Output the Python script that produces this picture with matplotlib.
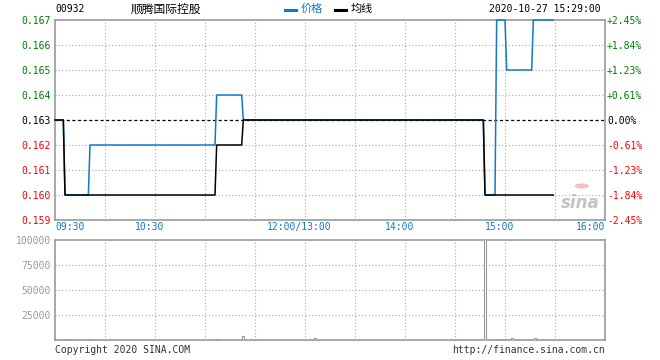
import matplotlib
matplotlib.use("Agg")
import matplotlib.pyplot as plt
import matplotlib.transforms as mtransforms
from matplotlib.patches import Circle

# ---------------- data ----------------
code = "00932"
name = "顺腾国际控股"
timestamp = "2020-10-27 15:29:00"
prev_close = 0.163

# minute index from 09:30 (HK session: 09:30-12:00, 13:00-16:00)
price_minutes = [0, 5, 6, 20, 21, 96, 97, 112, 113, 257, 258, 264, 265, 270, 271, 286, 287, 299]
price_values = [0.163, 0.163, 0.160, 0.160, 0.162, 0.162, 0.164, 0.164, 0.163, 0.163,
                0.160, 0.160, 0.167, 0.167, 0.165, 0.165, 0.167, 0.167]

avg_minutes = [0, 5, 6, 96, 97, 112, 113, 257, 258, 299]
avg_values = [0.163, 0.163, 0.160, 0.160, 0.162, 0.162, 0.163, 0.163, 0.160, 0.160]

vol_minutes = [6, 9, 21, 97, 113, 156, 258, 265, 268, 270, 274, 288]
vol_values = [1000, 1000, 1000, 1000, 4000, 2000, 120000, 1000, 1000, 1000, 2000, 2000]

price_ticks = [0.159, 0.160, 0.161, 0.162, 0.163, 0.164, 0.165, 0.166, 0.167]
vol_ticks = [25000, 50000, 75000, 100000]
time_tick_pos = [0, 60, 150, 210, 270, 330]
time_tick_labels = ["09:30", "10:30", "12:00/13:00", "14:00", "15:00", "16:00"]

# ---------------- style ----------------
W, H = 660, 360
DPI = 100
BLUE = "#0f7acb"
GREEN = "#008000"
RED = "#ff0000"
GRAY = "#999999"
GRIDC = "#aaaaaa"
MONO = "DejaVu Sans Mono"
CJK = ["Noto Sans CJK SC", "DejaVu Sans"]
FS = 7

fig = plt.figure(figsize=(W / DPI, H / DPI), dpi=DPI)
fig.patch.set_facecolor("white")

def fx(px):
    return px / W

def fy(py):
    return 1 - py / H

ax = fig.add_axes([fx(55), fy(220), fx(550), 200 / H])
axv = fig.add_axes([fx(55), fy(340), fx(550), 100 / H])

for a in (ax, axv):
    a.set_xlim(0, 330)
    for s in a.spines.values():
        s.set_color(GRAY)
        s.set_linewidth(1.2)
    a.set_xticks(list(range(30, 330, 30)))
    a.tick_params(axis="x", length=0, labelbottom=False)
    for x in range(30, 330, 30):
        a.axvline(x, color=GRIDC, lw=0.8, ls=(0, (1, 2)), zorder=1)

# ---------------- price panel ----------------
ax.set_ylim(0.159, 0.167)
for p in price_ticks[1:-1]:
    if abs(p - prev_close) < 1e-9:
        ax.axhline(p, color="black", lw=0.9, ls=(0, (2.5, 2)), zorder=2)
    else:
        ax.axhline(p, color=GRIDC, lw=0.8, ls=(0, (1, 2)), zorder=1)

ax.plot(price_minutes, price_values, color=BLUE, lw=1.1, zorder=5, clip_on=False)
ax.plot(avg_minutes, avg_values, color="black", lw=1.1, zorder=6, clip_on=False)

def pcolor(p):
    if abs(p - prev_close) < 1e-9:
        return "black"
    return GREEN if p > prev_close else RED

ax.set_yticks(price_ticks)
ax.set_yticklabels([f"{p:.3f}" for p in price_ticks], family=MONO, fontsize=FS)
for lbl, p in zip(ax.get_yticklabels(), price_ticks):
    lbl.set_color(pcolor(p))
ax.tick_params(axis="y", length=0, pad=3)

axr = ax.twinx()
axr.set_ylim(0.159, 0.167)
axr.set_yticks(price_ticks)
pct = []
for p in price_ticks:
    v = (p - prev_close) / prev_close * 100
    if abs(v) < 1e-9:
        pct.append("0.00%")
    else:
        pct.append(f"{v:+.2f}%")
axr.set_yticklabels(pct, family=MONO, fontsize=FS)
for lbl, p in zip(axr.get_yticklabels(), price_ticks):
    lbl.set_color(pcolor(p))
axr.tick_params(axis="y", length=0, pad=1.5)
for s in axr.spines.values():
    s.set_visible(False)

# time labels
off = mtransforms.ScaledTranslation(-5.5 / DPI, 0, fig.dpi_scale_trans)
trans = mtransforms.blended_transform_factory(ax.transData, fig.transFigure)
for i, (pos, lab) in enumerate(zip(time_tick_pos, time_tick_labels)):
    if i == 0:
        ha, tr = "left", trans
    elif i == len(time_tick_pos) - 1:
        ha, tr = "right", trans
    else:
        ha, tr = "center", trans + off
    fig.text(pos, fy(227), lab, transform=tr, ha=ha, va="center",
             family=MONO, fontsize=FS, color=BLUE)

# watermark
ax.text(0.955, 0.085, "sina", transform=ax.transAxes, ha="center", va="center",
        fontsize=12, fontweight="bold", style="italic", color="#c4c4c4", zorder=0)
ax.add_patch(Circle((0.958, 0.17), 0.013, transform=ax.transAxes,
                    facecolor="#f4c0c0", edgecolor="none", zorder=0))

# ---------------- volume panel ----------------
axv.set_ylim(0, 100000)
for v in vol_ticks[:-1]:
    axv.axhline(v, color=GRIDC, lw=0.8, ls=(0, (1, 2)), zorder=1)
axv.bar(vol_minutes, vol_values, width=1.3, facecolor="white", edgecolor=GRAY,
        linewidth=0.8, zorder=3)
axv.set_yticks(vol_ticks)
axv.set_yticklabels([str(v) for v in vol_ticks], family=MONO, fontsize=FS, color=GRAY)
axv.tick_params(axis="y", length=0, pad=3)

# ---------------- header / footer ----------------
fig.text(fx(55), fy(9), code, family=MONO, fontsize=FS, ha="left", va="center")
fig.text(fx(166), fy(9), name, family=CJK, fontsize=8.5, ha="center", va="center")
fig.add_artist(plt.Line2D([fx(285), fx(296)], [fy(10), fy(10)], color=BLUE, lw=2.2))
fig.text(fx(301), fy(9), "价格", family=CJK, fontsize=8, color=BLUE, ha="left", va="center")
fig.add_artist(plt.Line2D([fx(335), fx(346)], [fy(10), fy(10)], color="black", lw=2.2))
fig.text(fx(351), fy(9), "均线", family=CJK, fontsize=8, color="black", ha="left", va="center")
fig.text(fx(601), fy(9), timestamp, family=MONO, fontsize=FS, ha="right", va="center")

fig.text(fx(55), fy(350), "Copyright 2020 SINA.COM", family=MONO, fontsize=FS,
         color="#333333", ha="left", va="center")
fig.text(fx(605), fy(350), "http://finance.sina.com.cn", family=MONO, fontsize=FS,
         color="#333333", ha="right", va="center")

fig.savefig("out.png", dpi=DPI, facecolor="white")
